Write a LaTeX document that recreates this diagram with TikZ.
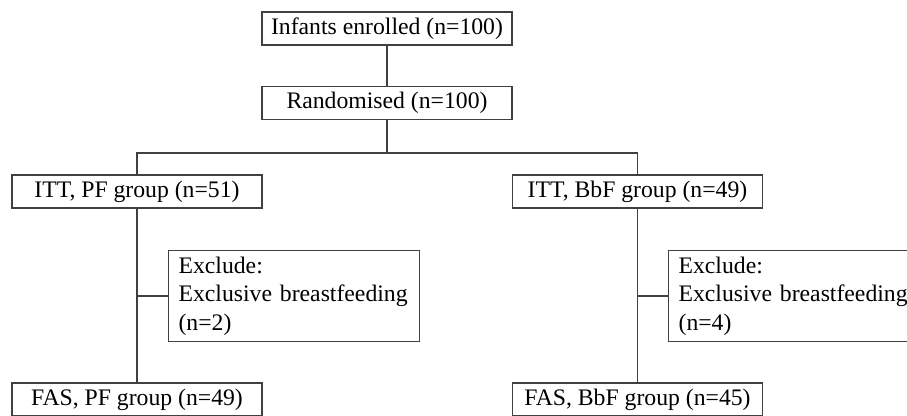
\documentclass[tikz,border=0pt]{standalone}
\usepackage{fontspec}
\setmainfont{Liberation Serif}
\tikzset{
    caja/.style={draw=black!75, line width=1.2pt, minimum width=250pt, minimum height=33pt, inner sep=0pt, fill=white},
    excl/.style={caja, minimum width=251pt, minimum height=91pt, text width=231pt, inner xsep=10pt, align=left, anchor=west},
    linea/.style={black!75, line width=1.2pt}
}
\begin{document}
\begin{tikzpicture}[x=1pt, y=-1pt, font=\fontsize{23.7}{28.5}\selectfont]
        % Marco
        \useasboundingbox (0,0) rectangle (907,415);
        \clip (0,0) rectangle (907,415);

        % Cajas
        \node[caja] (enrol) at (387,28.5) {Infants enrolled (n=100)};
        \node[caja] (rand) at (387,103) {Randomised (n=100)};
        \node[caja] (ittpf) at (137,191.5) {ITT, PF group (n=51)};
        \node[caja] (ittbbf) at (637.5,191.5) {ITT, BbF group (n=49)};
        \node[excl] (expf) at (168,296) {Exclude:\\Exclusive breastfeeding\\(n=2)};
        \node[excl] (exbbf) at (668,296) {Exclude:\\Exclusive breastfeeding\\(n=4)};
        \node[caja] (faspf) at (137,399.5) {FAS, PF group (n=49)};
        \node[caja] (fasbbf) at (637.5,399.5) {FAS, BbF group (n=45)};

        % Conexiones
        \coordinate (split) at (387,153);
        \draw[linea] (enrol) -- (rand);
        \draw[linea] (rand) -- (split);
        \draw[linea] (ittpf.north) -- (ittpf.north |- split) -- (ittbbf.north |- split) -- (ittbbf.north);
        \draw[linea] (ittpf) -- (faspf);
        \draw[linea] (ittbbf) -- (fasbbf);
        \draw[linea] (expf.west) -- (expf.west -| ittpf.south);
        \draw[linea] (exbbf.west) -- (exbbf.west -| ittbbf.south);
    \end{tikzpicture}
\end{document}
